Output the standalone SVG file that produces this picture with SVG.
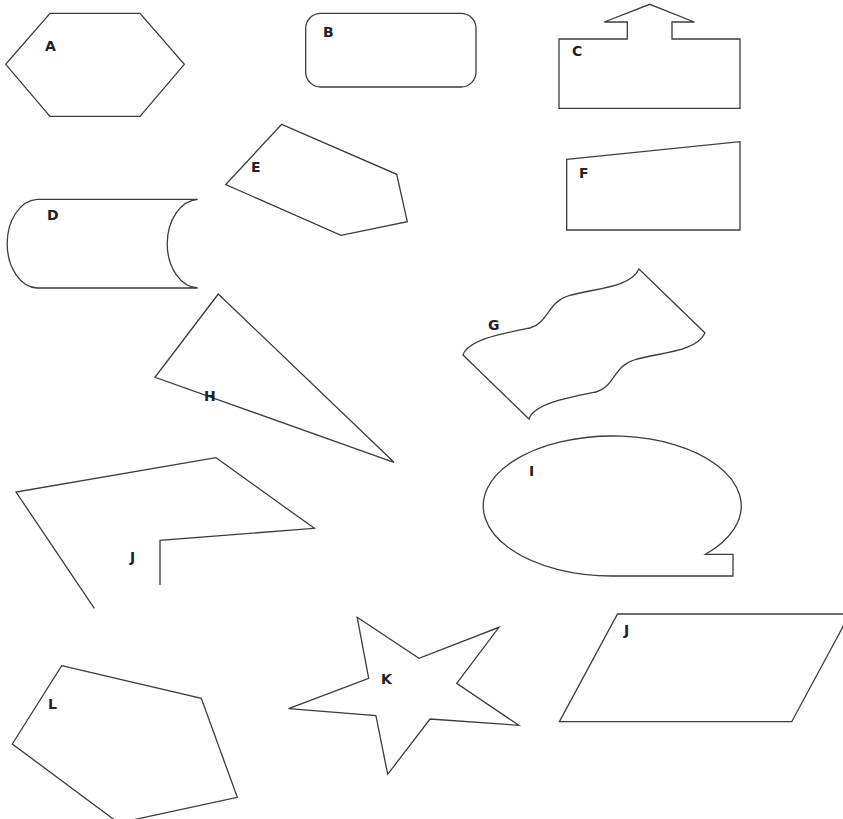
<svg xmlns="http://www.w3.org/2000/svg" width="843" height="819" viewBox="0 0 843 819">
<style>
.s{fill:#ffffff;stroke:#3c3c3c;stroke-width:1.3;stroke-linejoin:miter}
.o{fill:none;stroke:#3c3c3c;stroke-width:1.3}
.t{font-family:"DejaVu Sans",sans-serif;font-size:14px;font-weight:bold;fill:#222222}
</style>
<rect width="843" height="819" fill="#ffffff"/>
<g id="A"><polygon class="s" points="50,13.3 140,13.3 184.3,64.3 140,116.3 50,116.3 5.7,64.3"/><text class="t" x="45" y="51">A</text></g>
<g id="B"><rect class="s" x="305.7" y="13.3" width="170.3" height="73.7" rx="15" ry="15"/><text class="t" x="323" y="37">B</text></g>
<g id="C"><polygon class="s" points="559,39 627.3,39 627.3,22 604.3,22 649.7,4.3 694.3,22 672,22 672,39 740,39 740,108.3 559,108.3"/><text class="t" x="572" y="56">C</text></g>
<g id="D"><path class="s" d="M37,199.3 L197.7,199.3 A32,44.4 0 0 0 197.7,288 L37,288 A31.3,44.4 0 0 1 37,199.3 Z"/><text class="t" x="47" y="220">D</text></g>
<g id="E"><polygon class="s" points="281.7,124.3 396.7,174.3 407.3,221.7 341,235.3 225.7,184.5"/><text class="t" x="251" y="172">E</text></g>
<g id="F"><polygon class="s" points="566.7,159.3 740,141.7 740,230 566.7,230"/><text class="t" x="579" y="178">F</text></g>
<g id="G"><path class="s" d="M463,355 C468,340 500,334 530,328 C548,323 548,302 568,296 C595,288 630,288 639,269 L705,333 C696,352 661,352 634,360 C614,366 614,387 596,392 C566,398 534,404 529,419 Z"/><text class="t" x="488" y="330">G</text></g>
<g id="H"><polygon class="s" points="218.3,294 155,377.3 394,462.3"/><text class="t" x="204" y="401">H</text></g>
<g id="J1"><polyline class="o" points="94.3,608.3 16,492 216,457.7 314.3,528.3 160,540.3 160,585"/><text class="t" x="130" y="562">J</text></g>
<g id="I"><path class="s" d="M612,576 L733,576 L733,554.3 L705.6,554.3 A129,70 0 1 0 612,576 Z"/><text class="t" x="529" y="476">I</text></g>
<g id="L"><polygon class="s" points="61.7,665.7 201.3,698.3 237.3,797.3 118.6,823 12.3,744"/><text class="t" x="48" y="709">L</text></g>
<g id="K"><polygon class="s" points="357.2,617.3 419,658.3 499,627.3 456.7,683.3 518.8,725.3 430.1,719 387.7,774.3 375.9,715.7 288.6,708.7 368.7,678.3"/><text class="t" x="381" y="684">K</text></g>
<g id="J2"><polygon class="s" points="617.5,614 849.8,614 791.7,721.7 559.4,721.7"/><text class="t" x="624" y="635">J</text></g>
<g id="connectors"></g>
</svg>
